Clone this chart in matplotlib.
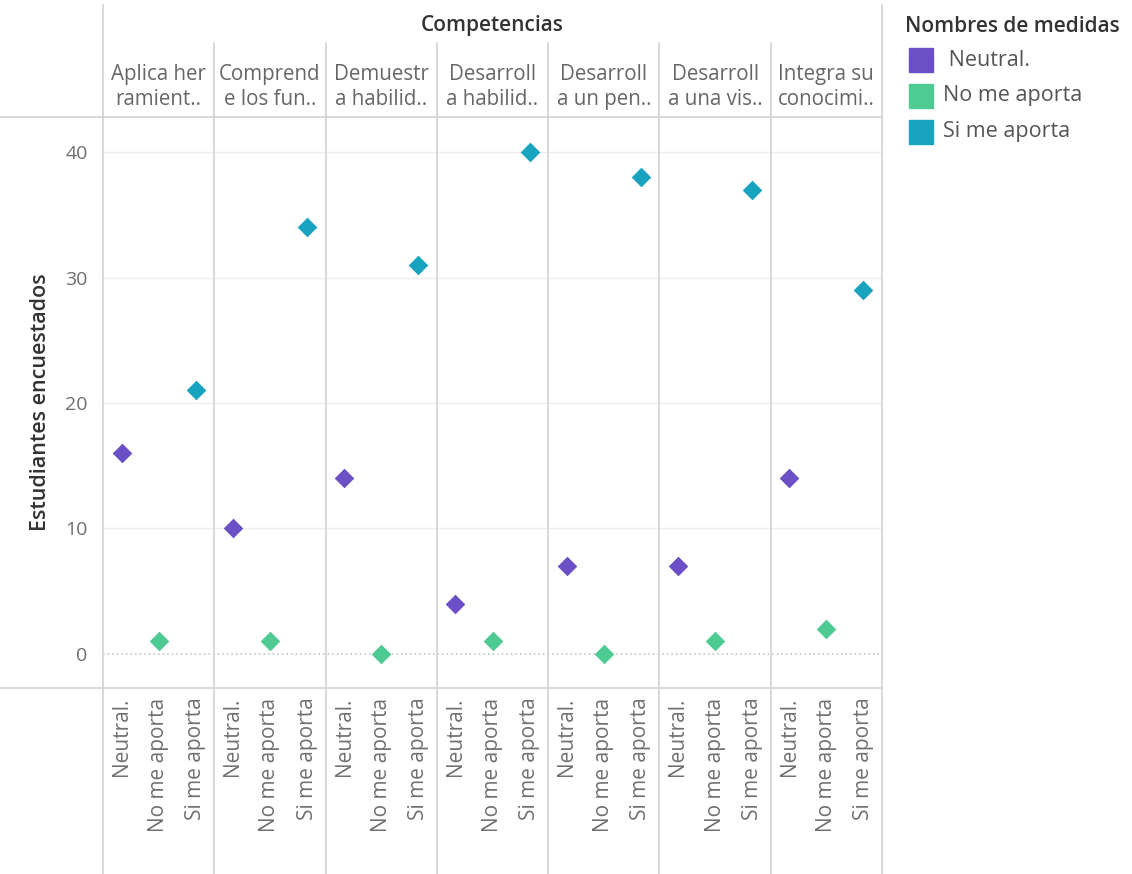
import matplotlib.pyplot as plt
import matplotlib.transforms as mtransforms
from matplotlib.lines import Line2D
from matplotlib.patches import Rectangle

plt.rcParams['font.family'] = ['Open Sans', 'DejaVu Sans']

# Data
competencias = [
    "Aplica her\nramient..", "Comprend\ne los fun..", "Demuestr\na habilid..",
    "Desarroll\na habilid..", "Desarroll\na un pen..", "Desarroll\na una vis..",
    "Integra su\nconocimi..",
]
medidas = ["Neutral.", "No me aporta", "Si me aporta"]
neutral = [16, 10, 14, 4, 7, 7, 14]
no_aporta = [1, 1, 0, 1, 0, 1, 2]
si_aporta = [21, 34, 31, 40, 38, 37, 29]
colores = ["#6b4fc6", "#4ecb93", "#18a3bf"]

W, H = 1132, 874
fig = plt.figure(figsize=(W / 100, H / 100), dpi=100)


def fx(x):
    return x / W


def fy(y):
    return 1 - y / H


left, right, top, bottom = 103, 882, 117, 688
ax = fig.add_axes([fx(left), fy(bottom), fx(right - left), fy(top) - fy(bottom)])

n = len(competencias)
ax.set_xlim(0, 3 * n)
ax.set_ylim(-2.71, 42.79)

series = [neutral, no_aporta, si_aporta]
for j, (vals, col) in enumerate(zip(series, colores)):
    xs = [3 * i + j + 0.5 for i in range(n)]
    ax.scatter(xs, vals, marker='D', s=100, color=col, zorder=5, linewidths=0)

# grid
for v in [10, 20, 30, 40]:
    ax.axhline(v, color='#ececec', lw=1, zorder=0)
ax.axhline(0, color='#bdbdbd', lw=1.1, ls=(0, (1, 2)), zorder=1)

for s in ax.spines.values():
    s.set_visible(False)

ax.set_yticks([0, 10, 20, 30, 40])
ax.tick_params(axis='y', length=0, pad=11, labelsize=14, labelcolor='#6e6e6e')
ax.set_xticks([3 * i + j + 0.5 for i in range(n) for j in range(3)])
ax.set_xticklabels(medidas * n, rotation=90, fontsize=15, color='#707070', va='top')
ax.tick_params(axis='x', length=0, pad=7)

ax.set_ylabel("Estudiantes encuestados", fontsize=15.5, color='#333333',
              fontweight='semibold', labelpad=10)

# panel separators (data x, figure y)
blend = mtransforms.blended_transform_factory(ax.transData, fig.transFigure)
line_col = '#d2d2d2'
for k in range(n + 1):
    ytop = 5 if k in (0, n) else 43
    fig.add_artist(Line2D([3 * k, 3 * k], [fy(ytop), fy(H)], transform=blend,
                          color=line_col, lw=1.2, clip_on=False))

for yy in (top, bottom):
    fig.add_artist(Line2D([0, fx(right)], [fy(yy), fy(yy)], transform=fig.transFigure,
                          color=line_col, lw=1.2))

# headers
fig.text(fx((left + right) / 2), fy(25), "Competencias", ha='center', va='center',
         fontsize=15, fontweight='semibold', color='#333333')
for i, name in enumerate(competencias):
    ax.text(3 * i + 1.5, fy(87), name, transform=blend, ha='center', va='center',
            fontsize=14.8, color='#666666', linespacing=1.3)

# legend
fig.text(fx(905), fy(27), "Nombres de medidas", ha='left', va='center',
         fontsize=15, fontweight='semibold', color='#333333')
for k, (name, col) in enumerate(zip(medidas, colores)):
    yc = 60 + 36 * k
    fig.add_artist(Rectangle((fx(909), fy(yc + 12)), fx(24), fy(0) - fy(24),
                             transform=fig.transFigure, color=col))
    label = " " + name if k == 0 else name
    fig.text(fx(943), fy(yc), label, ha='left', va='center', fontsize=15.5,
             color='#555555')

fig.savefig("out.png", dpi=100)
